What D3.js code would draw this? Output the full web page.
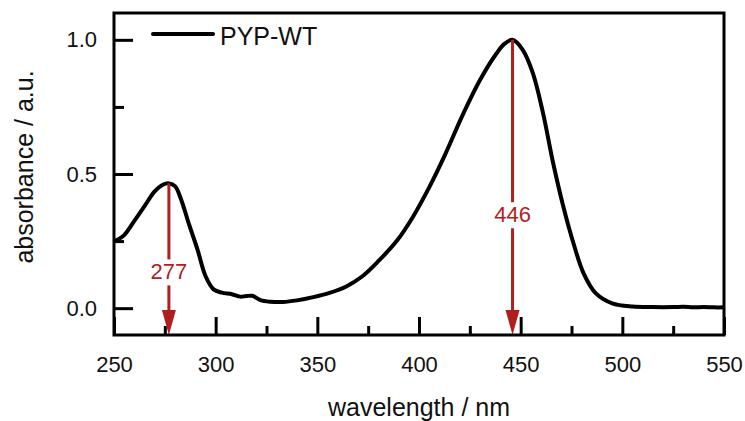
<!DOCTYPE html>
<html>
<head>
<meta charset="utf-8">
<script src="https://cdn.jsdelivr.net/npm/d3@7"></script>
<style>
  body { margin: 0; background: #fff; }
  text { font-family: "Liberation Sans", Arial, sans-serif; }
</style>
</head>
<body>
<svg id="chart" width="745" height="421"></svg>
<script>
// spectrum
const wavelengths = [250, 252, 255, 260, 265, 270, 274, 277, 280, 283, 287, 291, 295, 299, 303, 308, 312, 315, 318, 322, 327, 333, 340, 348, 356, 364, 372, 380, 389, 397, 405, 413, 421, 430, 438, 442, 446, 451, 456, 461, 466, 471, 476, 481, 487, 495, 505, 515, 525, 530, 535, 540, 545, 550]
const absorbance = [0.25, 0.256, 0.272, 0.325, 0.38, 0.435, 0.46, 0.465, 0.455, 0.405, 0.31, 0.22, 0.12, 0.07, 0.058, 0.052, 0.043, 0.045, 0.046, 0.03, 0.024, 0.023, 0.029, 0.041, 0.057, 0.08, 0.118, 0.175, 0.25, 0.34, 0.45, 0.575, 0.712, 0.85, 0.948, 0.985, 1.0, 0.963, 0.876, 0.727, 0.54, 0.378, 0.241, 0.129, 0.055, 0.018, 0.006, 0.004, 0.004, 0.005, 0.003, 0.004, 0.003, 0.003]

const xMajor = [250, 300, 350, 400, 450, 500, 550]
const xMinor = [275, 325, 375, 425, 475, 525]
const yMajor = [0, 0.5, 1.0]
const yMinor = [0.25, 0.75]

const peaks = [277, 446]
const seriesName = 'PYP-WT'

const WIDTH = 745, HEIGHT = 421
const margin = {top: 13, right: 21, bottom: 86, left: 114}
const w = WIDTH - margin.left - margin.right
const h = HEIGHT - margin.top - margin.bottom
const red = '#b01e1e'

const svg = d3.select('#chart')
const g = svg.append('g').attr('transform', `translate(${margin.left},${margin.top})`)

const x = d3.scaleLinear().domain([250, 550]).range([0, w])
const y = d3.scaleLinear().domain([-0.1, 1.1]).range([h, 0])

const data = wavelengths.map((d, i) => ({wl: d, a: absorbance[i]}))

// axes, ticks pointing inward
const styleAxis = sel => {
  sel.select('.domain').remove()
  sel.selectAll('line').attr('stroke', '#000').attr('stroke-width', 3)
  sel.selectAll('text').attr('font-size', 22).attr('fill', '#111')
}

g.append('g').attr('transform', `translate(0,${h})`)
  .call(d3.axisBottom(x).tickValues(xMajor).tickSize(-18).tickPadding(21).tickFormat(d3.format('d')))
  .call(styleAxis)
g.append('g').attr('transform', `translate(0,${h})`)
  .call(d3.axisBottom(x).tickValues(xMinor).tickSize(-9).tickFormat(''))
  .call(styleAxis)
g.append('g')
  .call(d3.axisLeft(y).tickValues(yMajor).tickSize(-19).tickPadding(17).tickFormat(d3.format('.1f')))
  .call(styleAxis)
g.append('g')
  .call(d3.axisLeft(y).tickValues(yMinor).tickSize(-10).tickFormat(''))
  .call(styleAxis)

// spectrum
const line = d3.line()
  .x(d => x(d.wl))
  .y(d => y(d.a))
  .curve(d3.curveCatmullRom)

g.append('path')
  .datum(data)
  .attr('d', line)
  .attr('fill', 'none')
  .attr('stroke', '#000')
  .attr('stroke-width', 4)
  .attr('stroke-linejoin', 'round')

// peak arrows
const labelY = {277: 0.137, 446: 0.35}
peaks.forEach(p => {
  const px = x(p)
  const top = y(absorbance[wavelengths.indexOf(p)])
  const ly = y(labelY[p])
  const headH = 25, headW = 7
  g.append('line').attr('x1', px).attr('x2', px).attr('y1', top).attr('y2', ly - 12)
    .attr('stroke', red).attr('stroke-width', 3)
  g.append('line').attr('x1', px).attr('x2', px).attr('y1', ly + 14).attr('y2', h - headH + 2)
    .attr('stroke', red).attr('stroke-width', 3)
  g.append('path')
    .attr('d', `M${px - headW},${h - headH}L${px + headW},${h - headH}L${px},${h}Z`)
    .attr('fill', red)
  g.append('text').attr('x', px).attr('y', ly).attr('dy', '0.36em')
    .attr('text-anchor', 'middle').attr('font-size', 22).attr('fill', red)
    .text(p)
})

// frame
g.append('rect').attr('width', w).attr('height', h)
  .attr('fill', 'none').attr('stroke', '#000').attr('stroke-width', 3)

// legend
g.append('line').attr('x1', 153 - margin.left).attr('x2', 213 - margin.left)
  .attr('y1', 34 - margin.top).attr('y2', 34 - margin.top)
  .attr('stroke', '#000').attr('stroke-width', 4).attr('stroke-linecap', 'round')
g.append('text').attr('x', 220 - margin.left).attr('y', 45 - margin.top)
  .attr('font-size', 25).attr('fill', '#111').text(seriesName)

// axis titles
svg.append('text').attr('x', margin.left + w / 2).attr('y', 416)
  .attr('text-anchor', 'middle').attr('font-size', 25).attr('fill', '#111')
  .text('wavelength / nm')
svg.append('text').attr('transform', 'translate(33,167) rotate(-90)')
  .attr('text-anchor', 'middle').attr('font-size', 25).attr('fill', '#111')
  .text('absorbance / a.u.')
</script>
</body>
</html>
